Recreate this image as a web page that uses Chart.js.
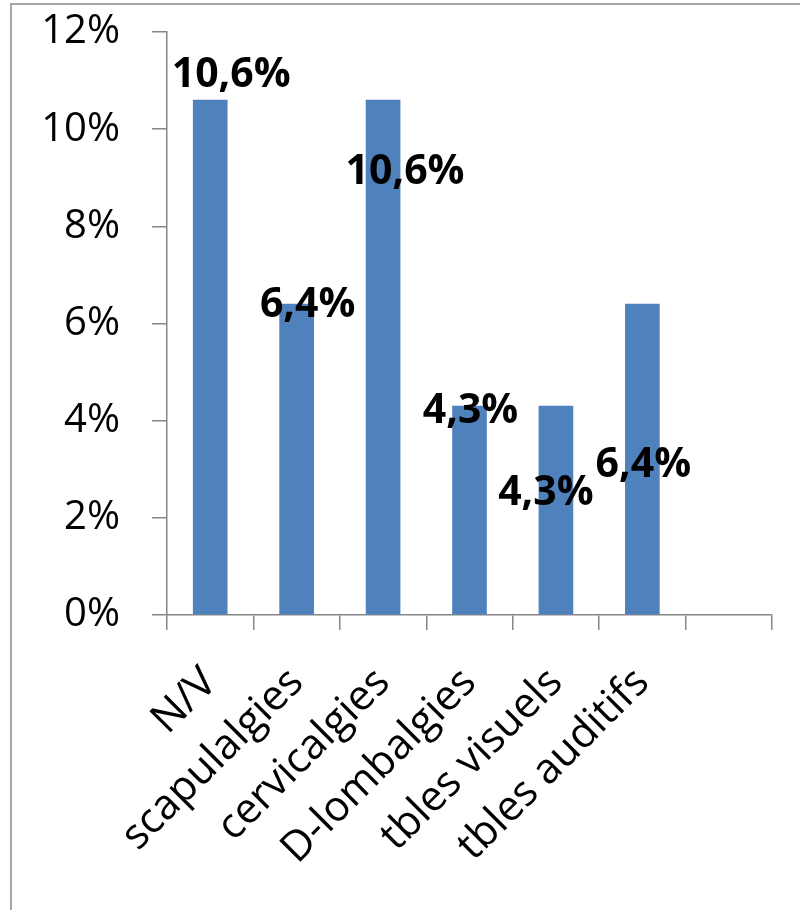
<!DOCTYPE html>
<html>
<head>
<meta charset="utf-8">
<script src="https://cdn.jsdelivr.net/npm/chart.js@4.4.7/dist/chart.umd.js"></script>
<style>
  html, body { margin: 0; padding: 0; background: #fff; overflow: hidden; }
  #wrap { position: relative; width: 800px; height: 910px; }
  #frame {
    position: absolute; left: 10px; top: 3px; width: 900px; height: 1000px;
    border-left: 2px solid #a6a6a6; border-top: 2px solid #a6a6a6;
  }
  canvas { position: absolute; left: 0; top: 0; }
</style>
</head>
<body>
<div id="wrap">
  <div id="frame"></div>
  <canvas id="chart" width="800" height="910"></canvas>
</div>
<script>
// données
const categories = ["N/V", "scapulalgies", "cervicalgies", "D-lombalgies", "tbles visuels", "tbles auditifs", ""];
const pourcentages = [10.6, 6.4, 10.6, 4.3, 4.3, 6.4, null];
const yTicks = [0, 2, 4, 6, 8, 10, 12];

// décalage des étiquettes (x centre, y ligne de base) par rapport au haut de la barre
const labelOffsets = [[21, -13], [11, 13], [22, 84], [1, 17], [-10, 99], [1, 173]];

const barLabels = {
  id: "barLabels",
  afterDatasetsDraw(chart) {
    const ctx = chart.ctx;
    const meta = chart.getDatasetMeta(0);
    ctx.save();
    ctx.font = "bold 41px 'Open Sans'";
    ctx.fillStyle = "#000";
    ctx.textAlign = "center";
    ctx.textBaseline = "alphabetic";
    meta.data.forEach((bar, i) => {
      const v = pourcentages[i];
      if (v == null) return;
      const off = labelOffsets[i];
      const txt = v.toFixed(1).replace(".", ",") + "%";
      ctx.fillText(txt, bar.x + off[0], bar.y + off[1]);
    });
    ctx.restore();
  }
};

const ctx = document.getElementById("chart").getContext("2d");
new Chart(ctx, {
  type: "bar",
  data: {
    labels: categories,
    datasets: [{
      data: pourcentages,
      backgroundColor: "#4f81bd",
      borderWidth: 0,
      barThickness: 34
    }]
  },
  options: {
    responsive: false,
    animation: false,
    layout: { padding: { top: 32, right: 28, left: 0, bottom: 0 } },
    plugins: { legend: { display: false }, tooltip: { enabled: false } },
    scales: {
      x: {
        grid: { drawOnChartArea: false, drawTicks: true, tickLength: 15, color: "#868686", lineWidth: 1.5, offset: true },
        border: { color: "#868686", width: 1.5 },
        ticks: {
          color: "#000",
          font: { family: "'Open Sans'", size: 42 },
          maxRotation: 45, minRotation: 45,
          autoSkip: false,
          padding: 28
        },
        afterFit(scale) { scale.height = 295; }
      },
      y: {
        min: 0, max: 12,
        afterBuildTicks(scale) { scale.ticks = yTicks.map(v => ({ value: v })); },
        grid: { drawOnChartArea: false, drawTicks: true, tickLength: 15, color: "#868686", lineWidth: 1.5 },
        border: { color: "#868686", width: 1.5 },
        ticks: {
          color: "#000",
          font: { family: "'Open Sans'", size: 40 },
          padding: 32,
          callback: v => v + "%"
        },
        afterFit(scale) {
          scale.width = 167;
          scale.paddingTop = 0;
          scale.paddingBottom = 0;
        }
      }
    }
  },
  plugins: [barLabels]
});
</script>
</body>
</html>
